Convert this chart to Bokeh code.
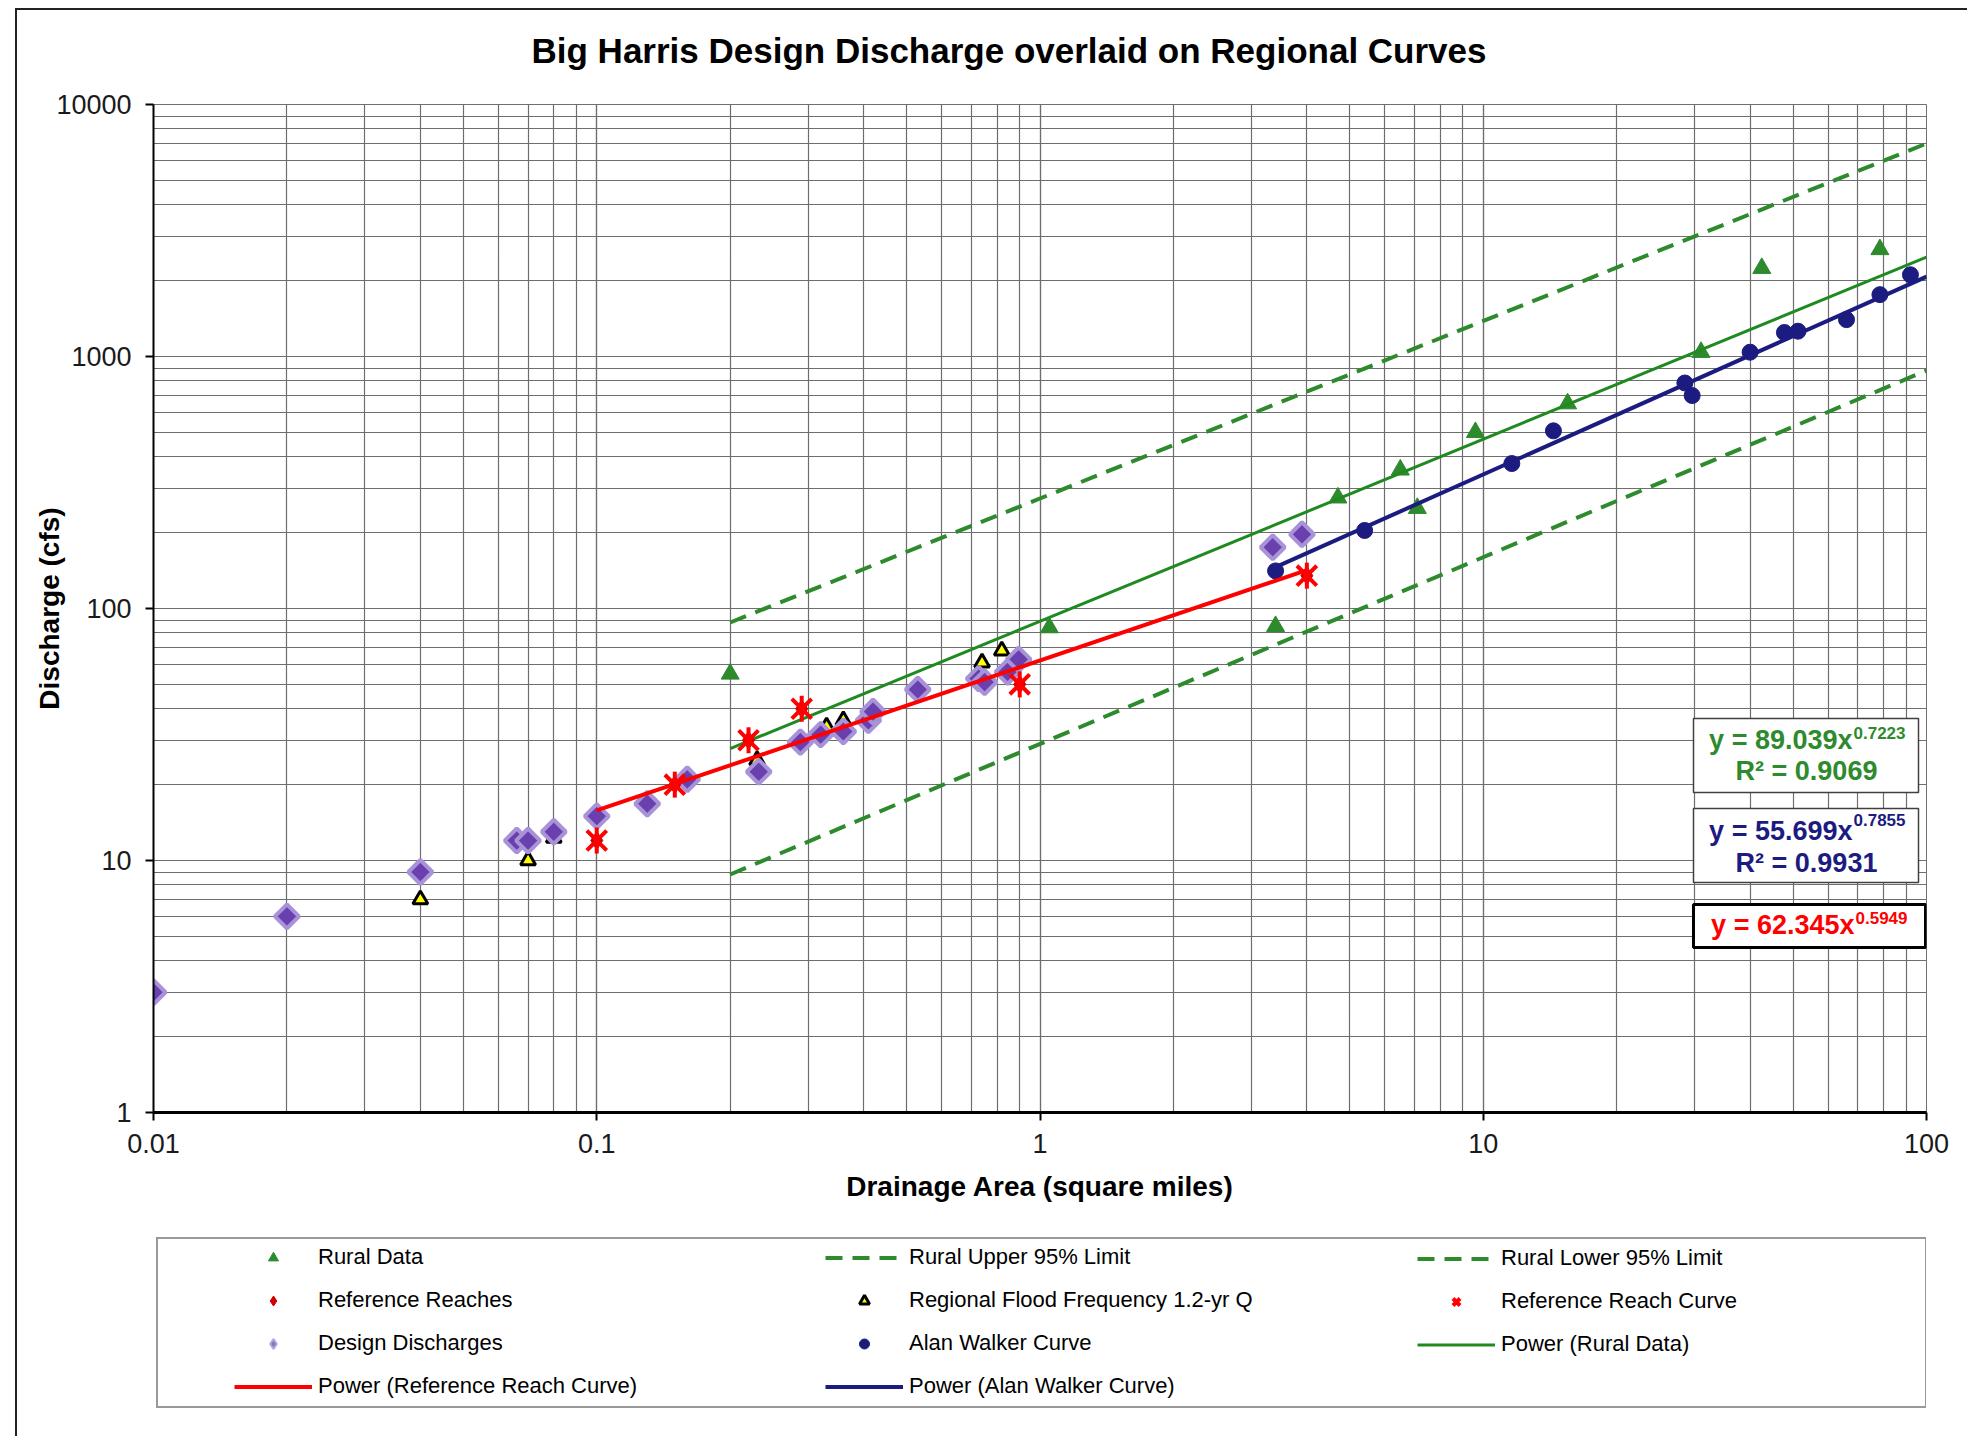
import numpy as np
from bokeh.plotting import figure
from bokeh.layouts import column
from bokeh.models import (Range1d, PrintfTickFormatter, Legend, LegendItem, Label,
                          BoxAnnotation)
from bokeh.embed import file_html
from bokeh.resources import INLINE

# ---------------- data ----------------
rural_area = [0.2, 1.05, 3.4, 4.7, 6.5, 7.1, 9.6, 15.5, 31, 42.5, 78.5]
rural_q = [55, 84, 85, 275, 355, 250, 500, 650, 1040, 2240, 2660]

rural_fit_area = [0.2, 100]
rural_fit_q = [27.8, 2479]
rural_upper_area = [0.2, 100]
rural_upper_q = [88, 7000]
rural_lower_area = [0.2, 100]
rural_lower_q = [8.8, 880]

ref_area = [0.1, 0.15, 0.22, 0.29, 0.9, 4.0]
ref_q = [12, 20, 30, 40, 50, 135]
ref_fit_area = [0.1, 4.0]
ref_fit_q = [15.8, 142]

walker_area = [3.4, 5.4, 11.6, 14.4, 28.5, 29.6, 40, 47.8, 51.3, 66, 78.5, 92]
walker_q = [141, 204, 376, 507, 785, 700, 1040, 1245, 1260, 1400, 1760, 2110]
walker_fit_area = [3.4, 100]
walker_fit_q = [146, 2074]

flood_area = [0.04, 0.07, 0.08, 0.23, 0.33, 0.36, 0.42, 0.74, 0.82]
flood_q = [7, 10, 12.3, 25, 34, 36, 40, 61, 68]

design_area = [0.01, 0.02, 0.04, 0.066, 0.07, 0.08, 0.1, 0.13, 0.16, 0.232, 0.288,
               0.32, 0.36, 0.41, 0.42, 0.53, 0.727, 0.75, 0.845, 0.895, 3.35, 3.9]
design_q = [3, 6, 9, 12, 12, 13, 15, 16.8, 21, 22.5, 29.5, 31.6, 32.5, 36, 39, 47.7,
            52.7, 51, 56, 62.8, 175, 197]

TITLE = "Big Harris Design Discharge overlaid on Regional Curves"

FONT = "Liberation Sans"
GREEN = "#2d8a2d"
GREEN_LINE = "#1f8a1f"
NAVY = "#1c1c80"
RED = "#ff0000"

# frame of the main chart, in page pixels
FL, FR, FT, FB = 153.0, 1926.0, 104.0, 1112.0
W = 1967
H0 = 80          # title strip
H1 = 1222 - H0   # chart
H2 = 214         # legend strip

# ---------------- title strip ----------------
t = figure(width=W, height=H0, x_range=Range1d(FL, FR), y_range=Range1d(H0, 0),
           output_backend="svg", toolbar_location=None, min_border=0,
           min_border_left=int(FL), min_border_right=int(W - FR),
           x_axis_location=None, y_axis_location=None)
t.grid.visible = False
t.outline_line_color = None
t.background_fill_color = None
t.border_fill_color = None
t.add_layout(Label(x=531, y=50, text=TITLE, text_align="left",
                   text_baseline="middle", text_font=FONT, text_font_size="35px",
                   text_font_style="bold", text_color="black"))

# ---------------- chart ----------------
p = figure(width=W, height=H1, x_axis_type="log", y_axis_type="log",
           x_range=Range1d(0.01, 100), y_range=Range1d(1, 10000),
           output_backend="svg", toolbar_location=None,
           min_border_left=int(FL), min_border_right=int(W - FR),
           min_border_top=int(FT - H0), min_border_bottom=int(H0 + H1 - FB))

p.background_fill_color = "white"
p.border_fill_color = None
p.outline_line_color = "#707070"

for g in (p.xgrid[0], p.ygrid[0]):
    g.grid_line_color = "#6e6e6e"
    g.grid_line_width = 1.2
    g.minor_grid_line_color = "#6e6e6e"
    g.minor_grid_line_width = 1.2

for ax in (p.xaxis[0], p.yaxis[0]):
    ax.formatter = PrintfTickFormatter(format="%g")
    ax.axis_line_color = "black"
    ax.major_tick_line_color = "black"
    ax.major_tick_line_width = 2
    ax.major_tick_out = 8
    ax.major_tick_in = 0
    ax.minor_tick_line_color = None
    ax.major_label_text_font = FONT
    ax.major_label_text_font_size = "27px"
    ax.major_label_text_color = "#1a1a1a"
    ax.axis_label_text_font = FONT
    ax.axis_label_text_font_size = "28px"
    ax.axis_label_text_font_style = "bold"
    ax.axis_label_text_color = "black"

p.xaxis.axis_label = "Drainage Area (square miles)"
p.xaxis.axis_line_width = 3
p.xaxis.major_label_standoff = 13
p.xaxis.axis_label_standoff = 15

p.yaxis.axis_label = "Discharge (cfs)"
p.yaxis.axis_line_width = 2
p.yaxis.major_label_standoff = 14
p.yaxis.axis_label_standoff = -12

# ---------------- glyphs ----------------
upper_style = dict(line_color=GREEN, line_width=4, line_dash="17 10")
rural_style = dict(marker="triangle", size=18, fill_color=GREEN, line_color=GREEN)
rfit_style = dict(line_color=GREEN_LINE, line_width=3)
walker_style = dict(marker="circle", size=16, fill_color=NAVY, line_color=NAVY)
wfit_style = dict(line_color=NAVY, line_width=4)
flood_style = dict(marker="triangle", size=15, fill_color="#ffff00", line_color="black",
                   line_width=3)
design_style = dict(marker="square", angle=np.pi / 4, size=17, fill_color="#6a3fae",
                    line_color="#a893d8", line_width=4)
reach_style = dict(marker="diamond", size=18, fill_color="#d00000", line_color="#d00000")
refx_style = dict(marker="x", size=28, line_color=RED, line_width=4)
refbar_style = dict(marker="dash", angle=np.pi / 2, size=26, line_color=RED, line_width=4)
reffit_style = dict(line_color=RED, line_width=4)

p.line(rural_upper_area, rural_upper_q, **upper_style)
p.line(rural_lower_area, rural_lower_q, **upper_style)
p.scatter(rural_area, rural_q, **rural_style)
p.line(rural_fit_area, rural_fit_q, **rfit_style)
p.scatter(walker_area, walker_q, **walker_style)
p.line(walker_fit_area, walker_fit_q, **wfit_style)
p.scatter(flood_area, flood_q, **flood_style)
p.scatter(design_area, design_q, **design_style)
p.scatter(ref_area, ref_q, **reach_style)
p.scatter(ref_area, ref_q, **refx_style)
p.scatter(ref_area, ref_q, **refbar_style)
p.line(ref_fit_area, ref_fit_q, **reffit_style)


# ---------------- equation boxes ----------------
def dx(xp):
    return 10 ** (-2 + 4 * (xp - FL) / (FR - FL))


def dy(yp):
    return 10 ** (4 - 4 * (yp - FT) / (FB - FT))


boxes = [
    (1693, 1918, 718, 792, "#404040", 1.5),
    (1693, 1918, 808, 882, "#404040", 1.5),
    (1693, 1925, 904, 947, "black", 3),
]
for l, r, tp, b, lc, lw in boxes:
    p.add_layout(BoxAnnotation(left=dx(l), right=dx(r), top=dy(tp), bottom=dy(b),
                               fill_color="white", fill_alpha=1, line_color=lc,
                               line_width=lw, line_alpha=1))

eqs = [
    ("y = 89.039x", "0.7223", "R\u00b2 = 0.9069", GREEN, 1852, 739, 732, 770),
    ("y = 55.699x", "0.7855", "R\u00b2 = 0.9931", NAVY, 1852, 830, 819, 862),
    ("y = 62.345x", "0.5949", None, RED, 1854, 924, 917, None),
]
for main, sup, r2, col, xs, yb, ysb, yr2 in eqs:
    p.add_layout(Label(x=dx(xs), y=dy(yb), text=main, text_align="right",
                       text_baseline="alphabetic", text_font=FONT,
                       text_font_size="27px", text_font_style="bold", text_color=col))
    p.add_layout(Label(x=dx(xs + 1), y=dy(ysb), text=sup, text_align="left",
                       text_baseline="alphabetic", text_font=FONT,
                       text_font_size="17px", text_font_style="bold", text_color=col))
    if r2:
        p.add_layout(Label(x=dx(1806), y=dy(yr2), text=r2, text_align="center",
                           text_baseline="alphabetic", text_font=FONT,
                           text_font_size="27px", text_font_style="bold",
                           text_color=col))

# ---------------- legend (own strip below the chart) ----------------
# The strip's frame is aligned with the chart's frame (x from FL to FR).
q = figure(width=W, height=H2, x_range=Range1d(0, 1), y_range=Range1d(0, 1),
           output_backend="svg", toolbar_location=None, min_border=0,
           min_border_left=int(FL), min_border_right=int(W - FR),
           x_axis_location=None, y_axis_location=None)
q.grid.visible = False
q.outline_line_color = None
q.background_fill_color = "white"
q.border_fill_color = None

# legend swatches need one (off-screen) point to be drawn
off_x = [-5.0, -4.0]
off_y = [-5.0, -4.0]
l_rural = q.scatter(off_x, off_y, **rural_style)
l_reach = q.scatter(off_x, off_y, **reach_style)
l_design = q.scatter(off_x, off_y, marker="diamond", size=17, fill_color="#8a70c0",
                     line_color="#b3a5d8", line_width=2)
l_reffit = q.line(off_x, off_y, **reffit_style)
l_upper = q.line(off_x, off_y, **upper_style)
l_flood = q.scatter(off_x, off_y, **flood_style)
l_walker = q.scatter(off_x, off_y, **walker_style)
l_wfit = q.line(off_x, off_y, **wfit_style)
l_lower = q.line(off_x, off_y, **upper_style)
l_refx = q.scatter(off_x, off_y, **refx_style)
l_rfit = q.line(off_x, off_y, **rfit_style)
l_dummy = q.scatter(off_x, off_y, marker="circle", size=1, fill_alpha=0, line_alpha=0)

x0 = FL
box_leg = Legend(items=[LegendItem(label=" ", renderers=[l_dummy])],
                 location=(156 - x0, 28), padding=0, margin=0, glyph_width=20,
                 glyph_height=167, label_height=167, label_width=1747,
                 label_standoff=0, border_line_color="#333333", border_line_width=2,
                 background_fill_color="white", background_fill_alpha=1,
                 label_text_font_size="4px")
q.add_layout(box_leg)

cols = [
    (234 - x0, 37, [("Rural Data", [l_rural]), ("Reference Reaches", [l_reach]),
                    ("Design Discharges", [l_design]),
                    ("Power (Reference Reach Curve)", [l_reffit])]),
    (825 - x0, 37, [("Rural Upper 95% Limit", [l_upper]),
                    ("Regional Flood Frequency 1.2-yr Q", [l_flood]),
                    ("Alan Walker Curve", [l_walker]),
                    ("Power (Alan Walker Curve)", [l_wfit])]),
    (1417 - x0, 79, [("Rural Lower 95% Limit", [l_lower]),
                     ("Reference Reach Curve", [l_refx]),
                     ("Power (Rural Data)", [l_rfit])]),
]
for lx, ly, items in cols:
    leg = Legend(items=[LegendItem(label=tx, renderers=rs) for tx, rs in items],
                 location=(lx, ly), padding=0, margin=0, glyph_width=78,
                 glyph_height=25, label_height=25, label_standoff=6, spacing=17,
                 border_line_color=None, background_fill_alpha=0,
                 label_text_font=FONT, label_text_font_size="22px",
                 label_text_color="black")
    q.add_layout(leg)

# outer chart border (top and left edges only, as in the reference crop)
layout = column(t, p, q, styles={
    "box-shadow": "inset 15px 8px 0 0 #ffffff, inset 17px 10px 0 0 #222222",
    "background-color": "#ffffff",
})
open("out.html", "w").write(file_html(layout, INLINE))
